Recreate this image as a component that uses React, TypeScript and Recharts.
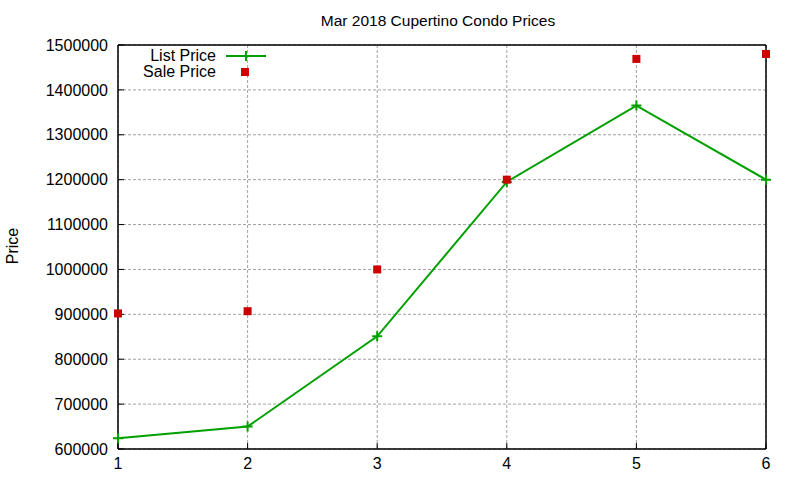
import { CartesianGrid, Legend, Line, LineChart, XAxis, YAxis } from 'recharts';

const months = [1, 2, 3, 4, 5, 6];
const listPrice = [624000, 650000, 851000, 1195000, 1365000, 1200000];
const salePrice = [902000, 907000, 1000000, 1200000, 1469000, 1480000];
const yTicks = [600000, 700000, 800000, 900000, 1000000, 1100000, 1200000, 1300000, 1400000, 1500000];

const data = months.map((m, i) => ({ month: m, list: listPrice[i], sale: salePrice[i] }));

const GREEN = '#00a000';
const RED = '#cc0000';
const FONT = '"Liberation Sans", Arial, sans-serif';

const PlusDot = (props: any) => {
  const { cx, cy } = props;
  if (cx == null || cy == null) return null;
  return (
    <path
      d={`M${cx - 5},${cy}H${cx + 5}M${cx},${cy - 5}V${cy + 5}`}
      stroke={GREEN}
      strokeWidth={2}
    />
  );
};

const SquareDot = (props: any) => {
  const { cx, cy } = props;
  if (cx == null || cy == null) return null;
  return <rect x={cx - 4} y={cy - 4} width={8} height={8} fill={RED} />;
};

const Overlay = () => (
  <svg width={800} height={480} style={{ fontFamily: FONT }}>
    <text x={438} y={26} textAnchor="middle" fontSize={15.5} fill="#000">
      Mar 2018 Cupertino Condo Prices
    </text>
    <text x={18} y={246} textAnchor="middle" fontSize={16} fill="#000" transform="rotate(-90 18 246)">
      Price
    </text>
    <text x={216} y={61} textAnchor="end" fontSize={16} fill="#000">List Price</text>
    <path d="M226,56H266" stroke={GREEN} strokeWidth={2} />
    <path d="M246,51V61" stroke={GREEN} strokeWidth={2} />
    <text x={216} y={77} textAnchor="end" fontSize={16} fill="#000">Sale Price</text>
    <rect x={241} y={68} width={8} height={8} fill={RED} />
  </svg>
);

export default function App() {
  const tickStyle = { fill: '#000', fontSize: 16, fontFamily: FONT };
  const axisLine = { stroke: '#000', strokeWidth: 1.5 };
  return (
    <div style={{ position: 'absolute', left: 0, top: 0, width: 800, height: 480, background: '#fff' }}>
      <LineChart width={800} height={480} data={data} margin={{ top: 44, right: 33, left: 8, bottom: 0 }}>
        <CartesianGrid xAxisId="bottom" yAxisId="left" stroke="#a0a0a0" strokeDasharray="3 2" />
        <XAxis
          xAxisId="bottom"
          dataKey="month"
          type="number"
          domain={[1, 6]}
          ticks={months}
          height={31}
          axisLine={axisLine}
          tickLine={{ stroke: '#000' }}
          tickSize={-6}
          tickMargin={15}
          tick={tickStyle}
        />
        <XAxis
          xAxisId="top"
          orientation="top"
          dataKey="month"
          type="number"
          domain={[1, 6]}
          ticks={months}
          height={1}
          axisLine={axisLine}
          tickLine={{ stroke: '#000' }}
          tickSize={-6}
          tick={false}
        />
        <YAxis
          yAxisId="left"
          type="number"
          domain={[600000, 1500000]}
          ticks={yTicks}
          width={110}
          axisLine={axisLine}
          tickLine={{ stroke: '#000' }}
          tickSize={-6}
          tickMargin={16}
          tick={tickStyle}
        />
        <YAxis
          yAxisId="right"
          orientation="right"
          type="number"
          domain={[600000, 1500000]}
          ticks={yTicks}
          width={1}
          axisLine={axisLine}
          tickLine={{ stroke: '#000' }}
          tickSize={-6}
          tick={false}
        />
        <Line
          xAxisId="bottom"
          yAxisId="left"
          dataKey="list"
          stroke={GREEN}
          strokeWidth={2}
          dot={<PlusDot />}
          activeDot={false}
          isAnimationActive={false}
        />
        <Line
          xAxisId="bottom"
          yAxisId="left"
          dataKey="sale"
          stroke="none"
          dot={<SquareDot />}
          activeDot={false}
          isAnimationActive={false}
        />
        <Legend
          layout="vertical"
          verticalAlign="middle"
          align="center"
          wrapperStyle={{ position: 'absolute', left: 0, top: 0, width: 800, height: 480, pointerEvents: 'none' }}
          content={() => <Overlay />}
        />
      </LineChart>
    </div>
  );
}
